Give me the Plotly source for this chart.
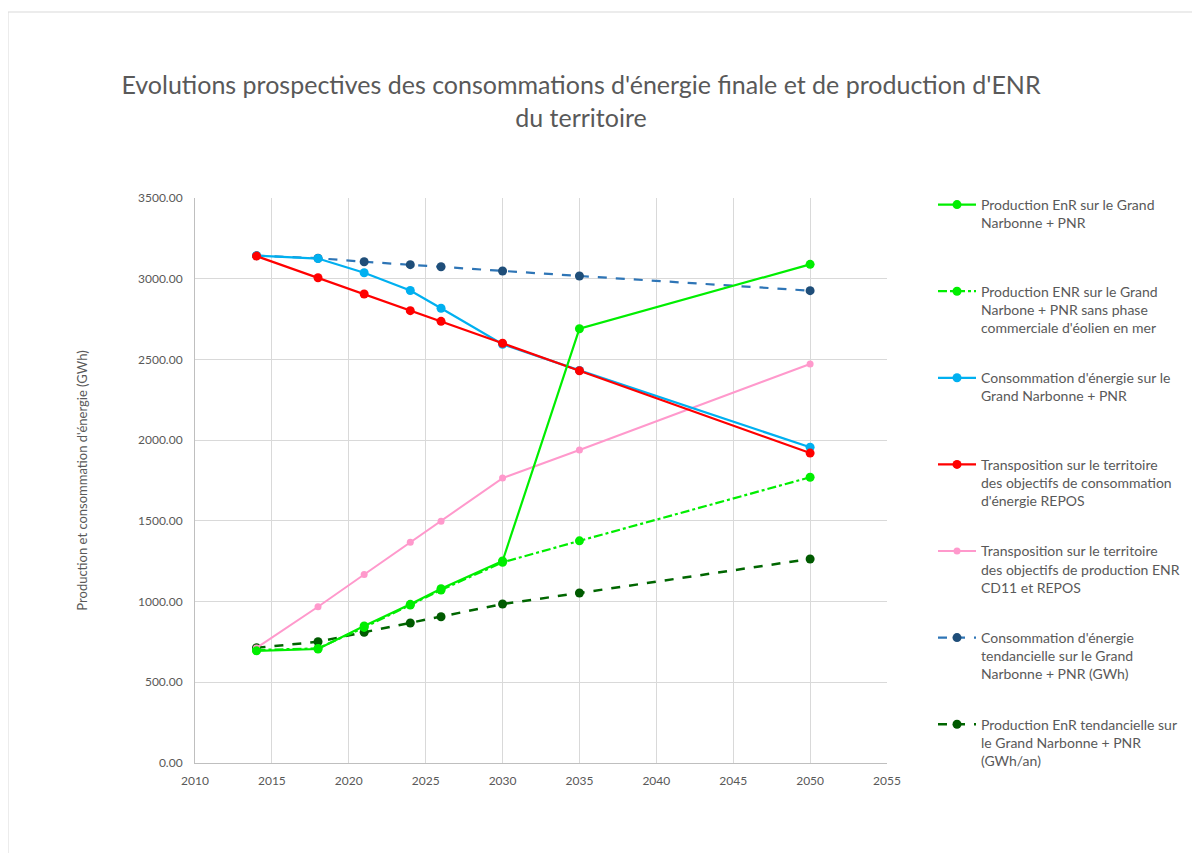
import plotly.graph_objects as go

years = [2014, 2018, 2021, 2024, 2026, 2030, 2035, 2050]

names = [
    "Production EnR sur le Grand<br>Narbonne + PNR<br> ",
    "Production ENR sur le Grand<br>Narbone + PNR sans phase<br>commerciale d'éolien en mer",
    "Consommation d'énergie sur le<br>Grand Narbonne + PNR<br> ",
    "Transposition sur le territoire<br>des objectifs de consommation<br>d'énergie REPOS",
    "Transposition sur le territoire<br>des objectifs de production ENR<br>CD11 et REPOS",
    "Consommation d'énergie<br>tendancielle sur le Grand<br>Narbonne + PNR (GWh)",
    "Production EnR tendancielle sur<br>le Grand Narbonne + PNR<br>(GWh/an)",
]

prod_enr = [695, 706, 849, 983, 1080, 1251, 2690, 3089]
prod_enr_sans_eolien = [700, 710, 840, 978, 1072, 1243, 1376, 1770]
conso = [3143, 3125, 3037, 2927, 2817, 2594, 2432, 1956]
repos_conso = [3140, 3006, 2905, 2802, 2736, 2600, 2430, 1920]
repos_prod = [713, 968, 1168, 1367, 1497, 1765, 1939, 2472]
conso_tend = [3143, 3127, 3105, 3087, 3074, 3048, 3017, 2926]
prod_tend = [714, 751, 810, 867, 906, 985, 1053, 1264]

fig = go.Figure()

def add(y, name, lcolor, mcolor, dash, rank, width=2.2, msize=9):
    fig.add_trace(go.Scatter(
        x=years, y=y, name=name, mode="lines+markers",
        legendgroup=name, legendrank=rank,
        line=dict(color=lcolor, width=width, dash=dash),
        marker=dict(color=mcolor, size=msize),
    ))

add(prod_tend, names[6], "#006600", "#005a00", "dash", 7, 2.5, 9)
add(prod_enr_sans_eolien, names[1], "#00EE00", "#00EE00", "dashdot", 2, 2.2, 9)
add(repos_prod, names[4], "#FF99CC", "#FF99CC", "solid", 5, 2, 7)
add(conso_tend, names[5], "#2E75B6", "#1F4E79", "dash", 6, 2.2, 9)
add(conso, names[2], "#00B0F0", "#00B0F0", "solid", 3, 2.2, 9)
add(repos_conso, names[3], "#FF0000", "#FF0000", "solid", 4, 2.2, 9)
add(prod_enr, names[0], "#00EE00", "#00EE00", "solid", 1, 2.2, 9)

grey = "#595959"
font = "Lato, 'Open Sans', sans-serif"

OFF = 8  # page body margin
L, R, T, B = 195 - OFF, 887 - OFF, 198 - OFF, 763 - OFF
W, H = 1200, 853
pw, ph = R - L, B - T

def px(xs):
    return (xs - OFF - L) / pw

def py(ys):
    return (B - (ys - OFF)) / ph

fig.update_layout(
    width=W, height=H,
    margin=dict(l=L, r=W - R, t=T, b=H - B, autoexpand=False),
    paper_bgcolor="white", plot_bgcolor="white",
    font=dict(family=font, color=grey, size=12),
    title=dict(
        text="Evolutions prospectives des consommations d'énergie finale et de production d'ENR<br>du territoire",
        x=(581 - OFF) / W, xanchor="center", y=1 - (101 - 7 - OFF) / H, yanchor="middle",
        font=dict(size=25, color=grey, family=font),
    ),
    showlegend=True,
    legend=dict(
        x=px(933), y=py(189), xanchor="left", yanchor="top",
        font=dict(size=14, color=grey, family=font),
        valign="top", tracegroupgap=29, maxheight=1000, itemwidth=38,
        bgcolor="rgba(0,0,0,0)",
    ),
    xaxis=dict(
        range=[2010, 2055], tickmode="linear", tick0=2010, dtick=5,
        showgrid=True, gridcolor="#D9D9D9", gridwidth=1,
        showline=True, linecolor="#BFBFBF", linewidth=1,
        zeroline=False, ticks="", tickfont=dict(size=12, color=grey),
        ticklabelstandoff=7,
    ),
    yaxis=dict(
        range=[0, 3500], tickmode="linear", tick0=0, dtick=500,
        tickformat=".2f",
        showgrid=True, gridcolor="#D9D9D9", gridwidth=1,
        showline=True, linecolor="#BFBFBF", linewidth=1,
        zeroline=False, ticks="", tickfont=dict(size=12, color=grey),
        ticklabelstandoff=9,
        title=dict(text="Production et consommation d'énergie (GWh)",
                   font=dict(size=13, color=grey), standoff=47),
    ),
    shapes=[dict(
        type="rect", xref="paper", yref="paper",
        x0=px(8), x1=px(1215), y0=py(870), y1=py(12),
        line=dict(color="#D9D9D9", width=1), fillcolor="rgba(0,0,0,0)",
        layer="below",
    )],
)

fig.write_html("out.html")
